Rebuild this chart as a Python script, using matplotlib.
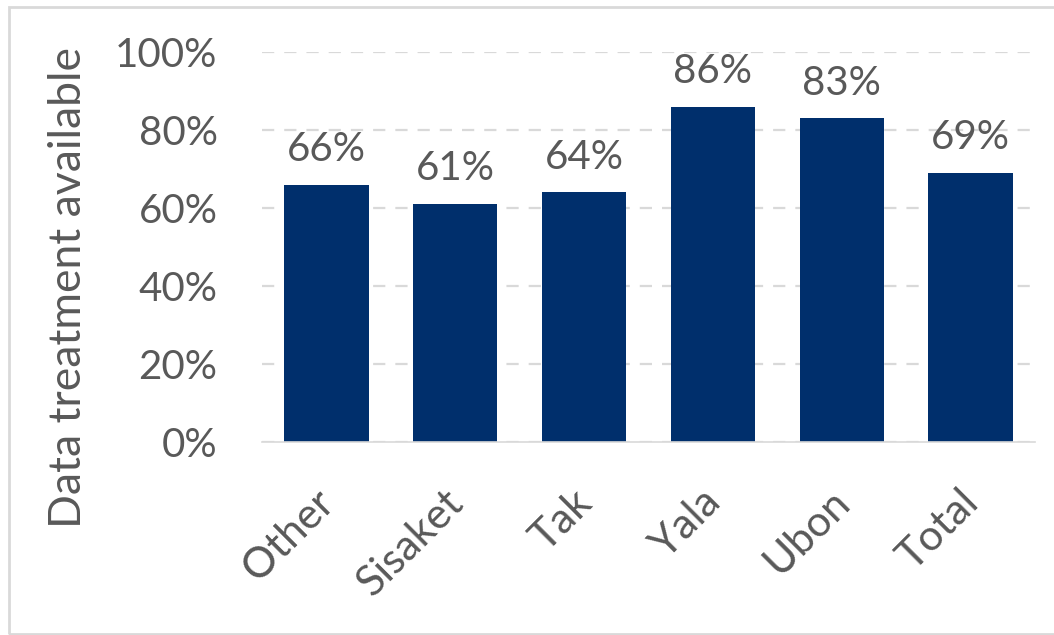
import matplotlib
matplotlib.use("Agg")
import matplotlib.pyplot as plt
from matplotlib.patches import Rectangle
from matplotlib.ticker import PercentFormatter

# Share of records with treatment data, by province
categories = ["Other", "Sisaket", "Tak", "Yala", "Ubon", "Total"]
values = [66, 61, 64, 86, 83, 69]
y_ticks = [0, 20, 40, 60, 80, 100]
y_label = "Data treatment available"

bar_color = "#002F6C"
text_color = "#595959"
grid_color = "#D9D9D9"
font = "Lato"

fig = plt.figure(figsize=(10.54, 6.35), dpi=100)
ax = fig.add_axes([262 / 1054, 1 - 442 / 635, (1035 - 262) / 1054, (442 - 52) / 635])

x = list(range(len(categories)))
bars = ax.bar(x, values, width=0.655, color=bar_color, zorder=3)

ax.set_xlim(-0.5, len(categories) - 0.5)
ax.set_ylim(0, 100)
ax.set_yticks(y_ticks)
ax.yaxis.set_major_formatter(PercentFormatter(decimals=0))
ax.set_xticks(x)
ax.set_xticklabels([])

for lbl in ax.get_yticklabels():
    lbl.set_fontfamily(font)
    lbl.set_fontsize(29)
    lbl.set_color(text_color)

# category labels: slanted 45 degrees, ending just below each tick
for xi, name in zip(x, categories):
    ax.annotate(name, (xi, 0), xycoords=("data", "axes fraction"),
                xytext=(-8.6, -29.5), textcoords="offset points",
                rotation=45, rotation_mode="anchor", ha="right", va="top",
                fontsize=30.5, fontfamily=font, color=text_color,
                annotation_clip=False)

ax.tick_params(axis="y", length=0, pad=32)
ax.tick_params(axis="x", length=0)

ax.yaxis.grid(True, color=grid_color, linestyle=(0, (5.5, 4.5)), linewidth=1.6, zorder=0)
for side in ("left", "right", "top"):
    ax.spines[side].set_visible(False)
ax.spines["bottom"].set_color(grid_color)
ax.spines["bottom"].set_linewidth(1.2)
ax.spines["bottom"].set_zorder(4)

for b, v in zip(bars, values):
    ax.annotate(f"{v}%", (b.get_x() + b.get_width() / 2, v), xytext=(0, 12),
                textcoords="offset points", ha="center", va="bottom",
                fontsize=29, fontfamily=font, color=text_color, annotation_clip=False)

ax.set_ylabel(y_label, fontsize=32, fontfamily=font, color=text_color)
ax.yaxis.label.set_va("center")
ax.yaxis.set_label_coords((69 - 262) / 773, (442 - 287) / 390)

# outer frame of the chart area
fig.patches.append(Rectangle((9 / 1054, 1 - 634 / 635), 1.1, (634 - 7) / 635,
                             transform=fig.transFigure, fill=False,
                             edgecolor="#D9D9D9", linewidth=2, zorder=0))

fig.savefig("out.png", dpi=100, facecolor="white")
